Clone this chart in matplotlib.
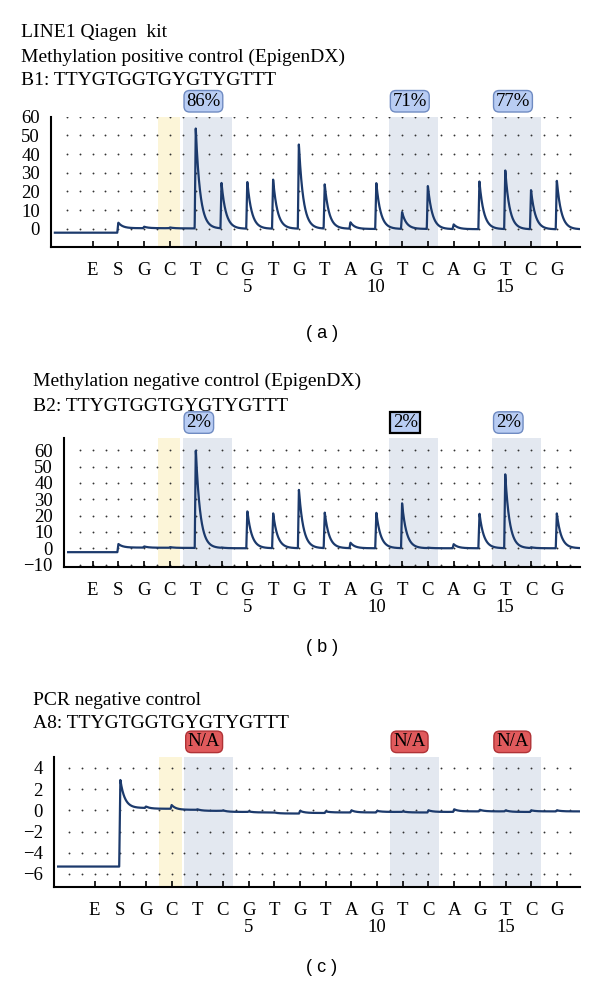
import numpy as np
import matplotlib.pyplot as plt

plt.rcParams['font.family'] = ['Liberation Serif', 'DejaVu Serif']

# dispensation order and position index (1..19)
bases = ['E', 'S', 'G', 'C', 'T', 'C', 'G', 'T', 'G', 'T', 'A', 'G', 'T', 'C', 'A', 'G', 'T', 'C', 'G']
positions = np.arange(1, 20)
numbered = {7: '5', 12: '10', 17: '15'}

# shaded regions (position units)
yellow_band = (3.52, 4.4)
blue_bands = [(4.5, 6.4), (12.5, 14.4), (16.5, 18.4)]

# (a) methylation positive control
peaks_a = [0, 3.0, 0.8, 0.5, 54.5, 24.5, 25.5, 26.5, 45.5, 24.0, 3.5, 25.0, 9.0, 23.5, 2.5, 25.5, 32.0, 21.0, 26.5]
levels_a = [-2.1, 0.3, 0.3, 0.2, 0.1, 0.0, 0.0, 0.0, 0.0, 0.0, -0.1, -0.1, -0.1, -0.2, -0.2, -0.2, -0.3, -0.3, -0.3]
labels_a = ['86%', '71%', '77%']

# (b) methylation negative control
peaks_b = [0, 2.2, 0.8, 0.5, 61.0, 0.3, 23.0, 21.5, 36.0, 22.0, 3.3, 22.0, 27.5, 0.3, 2.5, 21.5, 45.5, 0.5, 21.5]
levels_b = [-2.4, 0.4, 0.3, 0.2, 0.1, 0.0, 0.0, 0.0, 0.0, 0.0, 0.0, 0.0, 0.0, 0.0, 0.0, 0.0, 0.0, 0.0, 0.0]
labels_b = ['2%', '2%', '2%']

# (c) PCR negative control
peaks_c = [0, 2.7, 0.2, 0.45, 0.15, 0.15, 0.1, 0.1, 0.2, 0.1, 0.2, 0.1, 0.1, 0.15, 0.2, 0.15, 0.15, 0.1, 0.1]
levels_c = [-5.3, 0.22, 0.15, 0.05, -0.05, -0.15, -0.2, -0.3, -0.25, -0.2, -0.2, -0.15, -0.2, -0.15, -0.1, -0.1, -0.15, -0.1, -0.1]
labels_c = ['N/A', 'N/A', 'N/A']

navy = '#1c3a6c'
box_blue = dict(boxstyle='round,pad=0.12,rounding_size=0.3', fc='#b9cdf3', ec='#6f8bc2', lw=1.0)
box_sel = dict(boxstyle='square,pad=0.12', fc='#b9cdf3', ec='black', lw=1.6)
box_red = dict(boxstyle='round,pad=0.12,rounding_size=0.3', fc='#e05a5c', ec='#b03236', lw=1.0)


def trace(x, heights, levels):
    y = np.full_like(x, levels[0])
    prev = levels[0]
    for p, h, lv in zip(positions, heights, levels):
        d = x - p
        dp = np.clip(d, 0, None)
        rise = np.clip((d + 0.04) / 0.04, 0, 1)
        y += (lv - prev) * rise
        y += h * np.where(d < 0, rise, np.exp(-dp / 0.17))
        prev = lv
    return y


def panel(rect, xlim, ylim, yticks, heights, levels, labels, boxes, x0):
    ax = fig.add_axes(rect)
    ax.set_xlim(*xlim)
    ax.set_ylim(*ylim)
    ax.axvspan(*yellow_band, color='#fcf5d8', lw=0, zorder=0)
    for b in blue_bands:
        ax.axvspan(*b, color='#e3e8f0', lw=0, zorder=0)
    gx, gy = np.meshgrid(np.arange(0, 20, 0.5), yticks)
    keep = (gx > xlim[0] + 0.25) & (gx < xlim[1] - 0.05)
    ax.scatter(gx[keep], gy[keep], s=1.8, c='#333333', lw=0, zorder=1)
    x = np.linspace(x0, xlim[1], 4000)
    ax.plot(x, trace(x, heights, levels), color=navy, lw=1.6, zorder=3)

    ax.set_yticks(yticks)
    ax.set_yticklabels([str(v).replace('-', '\u2212') for v in yticks])
    ax.set_xticks(positions)
    ticklabels = [b + ('\n' + numbered[p] if p in numbered else '') for b, p in zip(bases, positions)]
    ax.set_xticklabels(ticklabels)
    for t in ax.get_xticklabels():
        t.set_linespacing(1.0)
    ax.tick_params(axis='y', length=0, pad=8, labelsize=13.5)
    ax.tick_params(axis='x', direction='in', length=4, width=1.2, pad=11, labelsize=13.5)
    for s in ['top', 'right']:
        ax.spines[s].set_visible(False)
    for s in ['left', 'bottom']:
        ax.spines[s].set_linewidth(1.5)

    for b, txt, bb in zip(blue_bands, labels, boxes):
        ax.annotate(txt, xy=(b[0], 1), xycoords=('data', 'axes fraction'),
                    xytext=(2.5, 5), textcoords='offset points',
                    ha='left', va='bottom', fontsize=13.5, bbox=bb)
    return ax


fig = plt.figure(figsize=(6, 9.89), dpi=100)
H = 989.0

def title(x, y, s):
    fig.text(x / 600, 1 - y / H, s, fontsize=14, va='baseline', ha='left')

title(21, 37, 'LINE1 Qiagen  kit')
title(21, 61.5, 'Methylation positive control (EpigenDX)')
title(21, 85, 'B1: TTYGTGGTGYGTYGTTT')
panel([51 / 600, 1 - 246.7 / H, 529 / 600, 130 / H], (-0.61, 19.9), (-9.6, 60),
      [0, 10, 20, 30, 40, 50, 60], peaks_a, levels_a, labels_a,
      [box_blue, box_blue, box_blue], -0.46)
fig.text(322 / 600, 1 - 333 / H, '( a )', fontsize=13, family='Liberation Sans', ha='center', va='center')

title(33, 386, 'Methylation negative control (EpigenDX)')
title(33, 411, 'B2: TTYGTGGTGYGTYGTTT')
panel([64 / 600, 1 - 566.7 / H, 516 / 600, 128.7 / H], (-0.11, 19.9), (-11.3, 67.5),
      [-10, 0, 10, 20, 30, 40, 50, 60], peaks_b, levels_b, labels_b,
      [box_blue, box_sel, box_blue], 0.05)
fig.text(322 / 600, 1 - 648 / H, '( b )', fontsize=13, family='Liberation Sans', ha='center', va='center')

title(33, 705, 'PCR negative control')
title(33, 728, 'A8: TTYGTGGTGYGTYGTTT')
panel([54 / 600, 1 - 886.7 / H, 526 / 600, 129.4 / H], (-0.58, 19.9), (-7.2, 5),
      [-6, -4, -2, 0, 2, 4], peaks_c, levels_c, labels_c,
      [box_red, box_red, box_red], -0.42)
fig.text(322 / 600, 1 - 968 / H, '( c )', fontsize=13, family='Liberation Sans', ha='center', va='center')

fig.savefig('out.png', dpi=100)
